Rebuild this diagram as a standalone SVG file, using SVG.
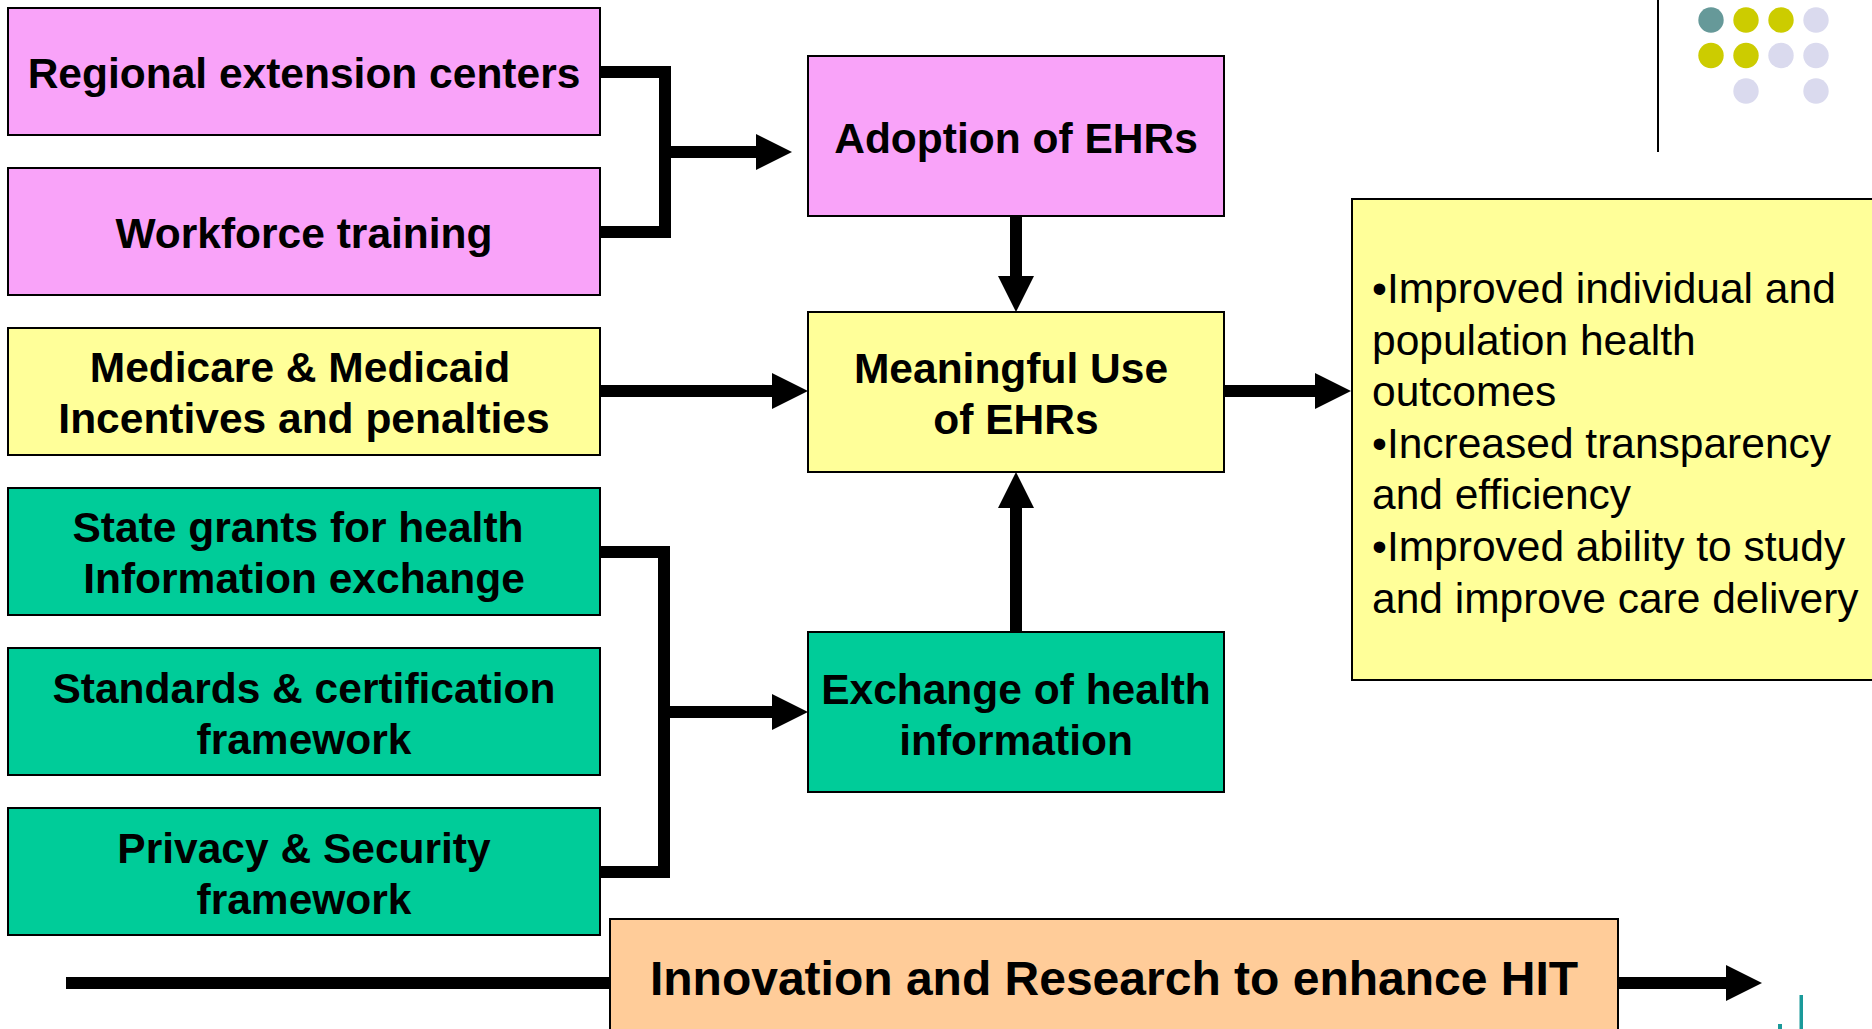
<svg xmlns="http://www.w3.org/2000/svg" width="1872" height="1029" viewBox="0 0 1872 1029">
<style>
.box{stroke:#000;stroke-width:2}
.pink{fill:#F9A3F9}
.yel{fill:#FFFF99}
.grn{fill:#00CC99}
.org{fill:#FFCC99}
.t{font-family:"Liberation Sans",Arial,sans-serif;font-weight:bold;font-size:42.5px;fill:#000;text-anchor:middle}
.big{font-size:48px}
.r{font-family:"Liberation Sans",Arial,sans-serif;font-size:42.5px;fill:#000}
.c{fill:none;stroke:#000;stroke-width:12;stroke-linejoin:miter}
.a{fill:none;stroke:#000;stroke-width:12;marker-end:url(#ah)}
</style>
<defs>
<marker id="ah" viewBox="0 0 3 3" refX="0" refY="1.5" markerWidth="3" markerHeight="3" orient="auto" markerUnits="strokeWidth">
<path d="M0,0 L3,1.5 L0,3 Z" fill="#000"/>
</marker>
</defs>
<rect width="1872" height="1029" fill="#fff"/>
<g id="decoration">
<line x1="1658" y1="0" x2="1658" y2="152" stroke="#000" stroke-width="2"/>
<circle cx="1711" cy="20" r="12.7" fill="#669999"/>
<circle cx="1746" cy="20" r="12.7" fill="#CCCC00"/>
<circle cx="1781" cy="20" r="12.7" fill="#CCCC00"/>
<circle cx="1816" cy="20" r="12.7" fill="#DADAEE"/>
<circle cx="1711" cy="55.5" r="12.7" fill="#CCCC00"/>
<circle cx="1746" cy="55.5" r="12.7" fill="#CCCC00"/>
<circle cx="1781" cy="55.5" r="12.7" fill="#DADAEE"/>
<circle cx="1816" cy="55.5" r="12.7" fill="#DADAEE"/>
<circle cx="1746" cy="91" r="12.7" fill="#DADAEE"/>
<circle cx="1816" cy="91" r="12.7" fill="#DADAEE"/>
<rect x="1799.5" y="995" width="3.5" height="34" fill="#1A9A9A"/>
<rect x="1778" y="1024" width="4" height="5" fill="#1A9A9A"/>
</g>
<g id="connectors">
<polyline class="c" points="600,72 665,72 665,232 600,232"/>
<line class="a" x1="665" y1="152" x2="756" y2="152"/>
<line class="a" x1="1016" y1="216" x2="1016" y2="276"/>
<line class="a" x1="600" y1="391" x2="772" y2="391"/>
<line class="a" x1="1224" y1="391" x2="1315" y2="391"/>
<polyline class="c" points="600,552 664,552 664,872 600,872"/>
<line class="a" x1="664" y1="712" x2="772" y2="712"/>
<line class="a" x1="1016" y1="632" x2="1016" y2="508"/>
<line class="a" x1="66" y1="983" x2="1726" y2="983"/>
</g>
<g id="regional">
<rect class="box pink" x="8" y="8" width="592" height="127"/>
<text class="t" x="304" y="88">Regional extension centers</text>
</g>
<g id="workforce">
<rect class="box pink" x="8" y="168" width="592" height="127"/>
<text class="t" x="304" y="248">Workforce training</text>
</g>
<g id="medicare">
<rect class="box yel" x="8" y="328" width="592" height="127"/>
<text class="t" x="300" y="382">Medicare &amp; Medicaid</text>
<text class="t" x="304" y="433">Incentives and penalties</text>
</g>
<g id="stategrants">
<rect class="box grn" x="8" y="488" width="592" height="127"/>
<text class="t" x="298" y="542">State grants for health</text>
<text class="t" x="304" y="593">Information exchange</text>
</g>
<g id="standards">
<rect class="box grn" x="8" y="648" width="592" height="127"/>
<text class="t" x="304" y="703">Standards &amp; certification</text>
<text class="t" x="304" y="754">framework</text>
</g>
<g id="privacy">
<rect class="box grn" x="8" y="808" width="592" height="127"/>
<text class="t" x="304" y="863">Privacy &amp; Security</text>
<text class="t" x="304" y="914">framework</text>
</g>
<g id="adoption">
<rect class="box pink" x="808" y="56" width="416" height="160"/>
<text class="t" x="1016" y="153">Adoption of EHRs</text>
</g>
<g id="meaningful">
<rect class="box yel" x="808" y="312" width="416" height="160"/>
<text class="t" x="1011" y="383">Meaningful Use</text>
<text class="t" x="1016" y="434">of EHRs</text>
</g>
<g id="exchange">
<rect class="box grn" x="808" y="632" width="416" height="160"/>
<text class="t" x="1016" y="704">Exchange of health</text>
<text class="t" x="1016" y="755">information</text>
</g>
<g id="outcomes">
<rect class="box yel" x="1352" y="199" width="600" height="481"/>
<text class="r" x="1372" y="303">•Improved individual and</text>
<text class="r" x="1372" y="355">population health</text>
<text class="r" x="1372" y="406">outcomes</text>
<text class="r" x="1372" y="458">•Increased transparency</text>
<text class="r" x="1372" y="509">and efficiency</text>
<text class="r" x="1372" y="561">•Improved ability to study</text>
<text class="r" x="1372" y="613">and improve care delivery</text>
</g>
<g id="innovation">
<rect class="box org" x="610" y="919" width="1008" height="140"/>
<text class="t big" x="1114" y="995">Innovation and Research to enhance HIT</text>
</g>
</svg>
